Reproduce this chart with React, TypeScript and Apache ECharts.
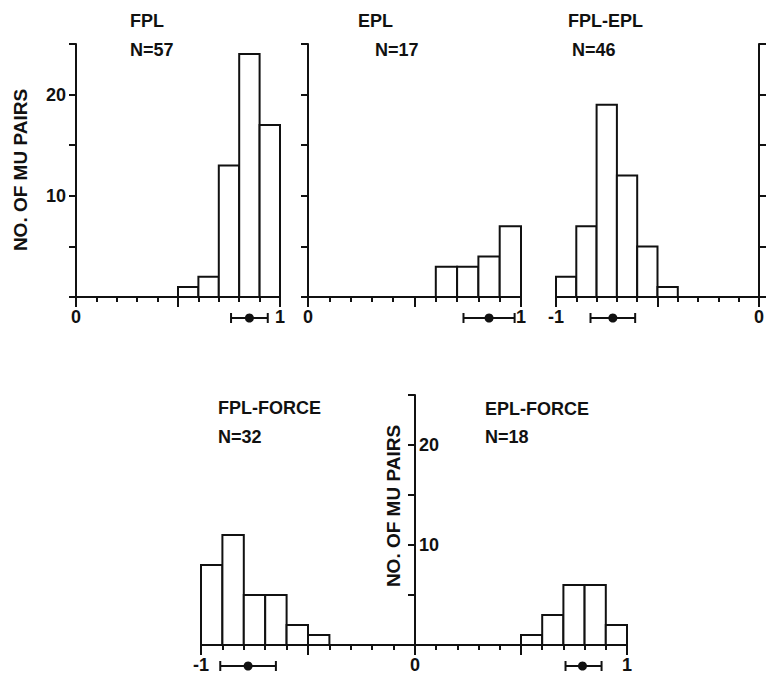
import React, { useEffect, useRef } from "react";
import * as echarts from "echarts";

// ---- data ----
const BIN_WIDTH = 0.1;
const fplBins = [0.5, 0.6, 0.7, 0.8, 0.9];
const fplCounts = [1, 2, 13, 24, 17];
const eplBins = [0.6, 0.7, 0.8, 0.9];
const eplCounts = [3, 3, 4, 7];
const fplEplBins = [-1.0, -0.9, -0.8, -0.7, -0.6, -0.5];
const fplEplCounts = [2, 7, 19, 12, 5, 1];
const fplForceBins = [-1.0, -0.9, -0.8, -0.7, -0.6, -0.5];
const fplForceCounts = [8, 11, 5, 5, 2, 1];
const eplForceBins = [0.5, 0.6, 0.7, 0.8, 0.9];
const eplForceCounts = [1, 3, 6, 6, 2];

// mean, low, high
const fplStat = [0.85, 0.76, 0.94];
const eplStat = [0.85, 0.73, 0.97];
const fplEplStat = [-0.72, -0.83, -0.61];
const fplForceStat = [-0.78, -0.91, -0.65];
const eplForceStat = [0.79, 0.71, 0.88];

const yTickLabels = [10, 20];
const xTickLabelsPos = [0, 1];
const xTickLabelsNeg = [-1, 0];
const xTickLabelsRightHalf = [1];

const FONT = "Arial, 'Liberation Sans', Helvetica, sans-serif";
const INK = "#111";

function histData(bins: number[], counts: number[]) {
  return bins.map((b, i) => [b, b + BIN_WIDTH, counts[i]]);
}

const histRender = (params: any, api: any) => {
  const p0 = api.coord([api.value(0), api.value(2)]);
  const p1 = api.coord([api.value(1), 0]);
  return {
    type: "rect",
    shape: { x: p0[0], y: p0[1], width: p1[0] - p0[0], height: p1[1] - p0[1] },
    style: { fill: "#fff", stroke: INK, lineWidth: 2 },
  };
};

const errRender = (params: any, api: any) => {
  const m = api.coord([api.value(0), 0]);
  const lo = api.coord([api.value(1), 0]);
  const hi = api.coord([api.value(2), 0]);
  const y = m[1] + 21;
  const ls = { stroke: INK, lineWidth: 2 };
  return {
    type: "group",
    children: [
      { type: "line", shape: { x1: lo[0], y1: y, x2: hi[0], y2: y }, style: ls },
      { type: "line", shape: { x1: lo[0], y1: y - 5, x2: lo[0], y2: y + 5 }, style: ls },
      { type: "line", shape: { x1: hi[0], y1: y - 5, x2: hi[0], y2: y + 5 }, style: ls },
      { type: "circle", shape: { cx: m[0], cy: y, r: 4.5 }, style: { fill: INK } },
    ],
  };
};

function xAxisDef(gridIndex: number, min: number, max: number, labels: number[]) {
  return {
    type: "value",
    gridIndex,
    min,
    max,
    interval: 0.5,
    axisLine: { show: true, onZero: false, lineStyle: { color: INK, width: 2 } },
    axisTick: { show: true, length: 10, lineStyle: { color: INK, width: 2 } },
    minorTick: { show: true, splitNumber: 5, length: 5, lineStyle: { color: INK, width: 2 } },
    splitLine: { show: false },
    minorSplitLine: { show: false },
    axisLabel: {
      show: true,
      margin: 11,
      showMinLabel: true,
      showMaxLabel: true,
      fontSize: 18,
      fontWeight: "bold",
      fontFamily: FONT,
      color: INK,
      formatter: (v: number) => (labels.indexOf(v) >= 0 ? String(v) : ""),
    },
  };
}

function yAxisDef(
  gridIndex: number,
  opts: { position?: string; tickInside?: boolean; showLabel?: boolean; hidden?: boolean }
) {
  return {
    type: "value",
    gridIndex,
    show: !opts.hidden,
    position: opts.position || "left",
    min: 0,
    max: 25,
    interval: 5,
    axisLine: { show: true, onZero: false, lineStyle: { color: INK, width: 2 } },
    axisTick: { show: true, inside: !!opts.tickInside, length: 7, lineStyle: { color: INK, width: 2 } },
    splitLine: { show: false },
    axisLabel: {
      show: opts.showLabel !== false,
      margin: opts.tickInside ? 4 : 10,
      fontSize: 18,
      fontWeight: "bold",
      fontFamily: FONT,
      color: INK,
      formatter: (v: number) => (yTickLabels.indexOf(v) >= 0 ? String(v) : ""),
    },
  };
}

function txt(text: string, x: number, y: number, size = 18, rotation = 0, align = "left") {
  return {
    type: "text",
    x,
    y,
    rotation,
    style: {
      text,
      fill: INK,
      font: `bold ${size}px ${FONT}`,
      textAlign: align,
      textVerticalAlign: "middle",
    },
  };
}

const common = { type: "custom", clip: false };

export default function App() {
  const ref = useRef<HTMLDivElement>(null);
  useEffect(() => {
    if (!ref.current) return;
    const chart = echarts.init(ref.current, undefined, { renderer: "svg" });
    const option: any = {
      animation: false,
      backgroundColor: "#fff",
      grid: [
        { left: 76, top: 44, width: 204, height: 253 },
        { left: 308, top: 44, width: 213, height: 253 },
        { left: 556, top: 44, width: 209, height: 253 },
        { left: 201, top: 395, width: 214, height: 250 },
        { left: 415, top: 395, width: 212, height: 250 },
      ],
      xAxis: [
        xAxisDef(0, 0, 1, xTickLabelsPos),
        xAxisDef(1, 0, 1, xTickLabelsPos),
        xAxisDef(2, -1, 0, xTickLabelsNeg),
        xAxisDef(3, -1, 0, xTickLabelsNeg),
        xAxisDef(4, 0, 1, xTickLabelsRightHalf),
      ],
      yAxis: [
        yAxisDef(0, {}),
        yAxisDef(1, { showLabel: false }),
        yAxisDef(2, { position: "right", showLabel: false }),
        yAxisDef(3, { position: "right", tickInside: true }),
        yAxisDef(4, { hidden: true }),
      ],
      series: [
        { ...common, xAxisIndex: 0, yAxisIndex: 0, renderItem: histRender, data: histData(fplBins, fplCounts), encode: { x: [0, 1], y: 2 } },
        { ...common, xAxisIndex: 1, yAxisIndex: 1, renderItem: histRender, data: histData(eplBins, eplCounts), encode: { x: [0, 1], y: 2 } },
        { ...common, xAxisIndex: 2, yAxisIndex: 2, renderItem: histRender, data: histData(fplEplBins, fplEplCounts), encode: { x: [0, 1], y: 2 } },
        { ...common, xAxisIndex: 3, yAxisIndex: 3, renderItem: histRender, data: histData(fplForceBins, fplForceCounts), encode: { x: [0, 1], y: 2 } },
        { ...common, xAxisIndex: 4, yAxisIndex: 4, renderItem: histRender, data: histData(eplForceBins, eplForceCounts), encode: { x: [0, 1], y: 2 } },
        { ...common, xAxisIndex: 0, yAxisIndex: 0, renderItem: errRender, data: [fplStat], encode: { x: [0, 1, 2] } },
        { ...common, xAxisIndex: 1, yAxisIndex: 1, renderItem: errRender, data: [eplStat], encode: { x: [0, 1, 2] } },
        { ...common, xAxisIndex: 2, yAxisIndex: 2, renderItem: errRender, data: [fplEplStat], encode: { x: [0, 1, 2] } },
        { ...common, xAxisIndex: 3, yAxisIndex: 3, renderItem: errRender, data: [fplForceStat], encode: { x: [0, 1, 2] } },
        { ...common, xAxisIndex: 4, yAxisIndex: 4, renderItem: errRender, data: [eplForceStat], encode: { x: [0, 1, 2] } },
      ],
      graphic: [
        txt("FPL", 130, 21),
        txt("N=57", 130, 50),
        txt("EPL", 358, 21),
        txt("N=17", 375, 50),
        txt("FPL-EPL", 568, 21),
        txt("N=46", 572, 50),
        txt("FPL-FORCE", 218, 408),
        txt("N=32", 218, 437),
        txt("EPL-FORCE", 485, 409),
        txt("N=18", 485, 437),
        txt("NO. OF MU PAIRS", 20, 170, 19, Math.PI / 2, "center"),
        txt("NO. OF MU PAIRS", 393, 506, 19, Math.PI / 2, "center"),
      ],
    };
    chart.setOption(option);
    return () => chart.dispose();
  }, []);
  return (
    <div
      ref={ref}
      style={{ position: "absolute", left: 0, top: 0, width: 767, height: 677, background: "#fff" }}
    />
  );
}
